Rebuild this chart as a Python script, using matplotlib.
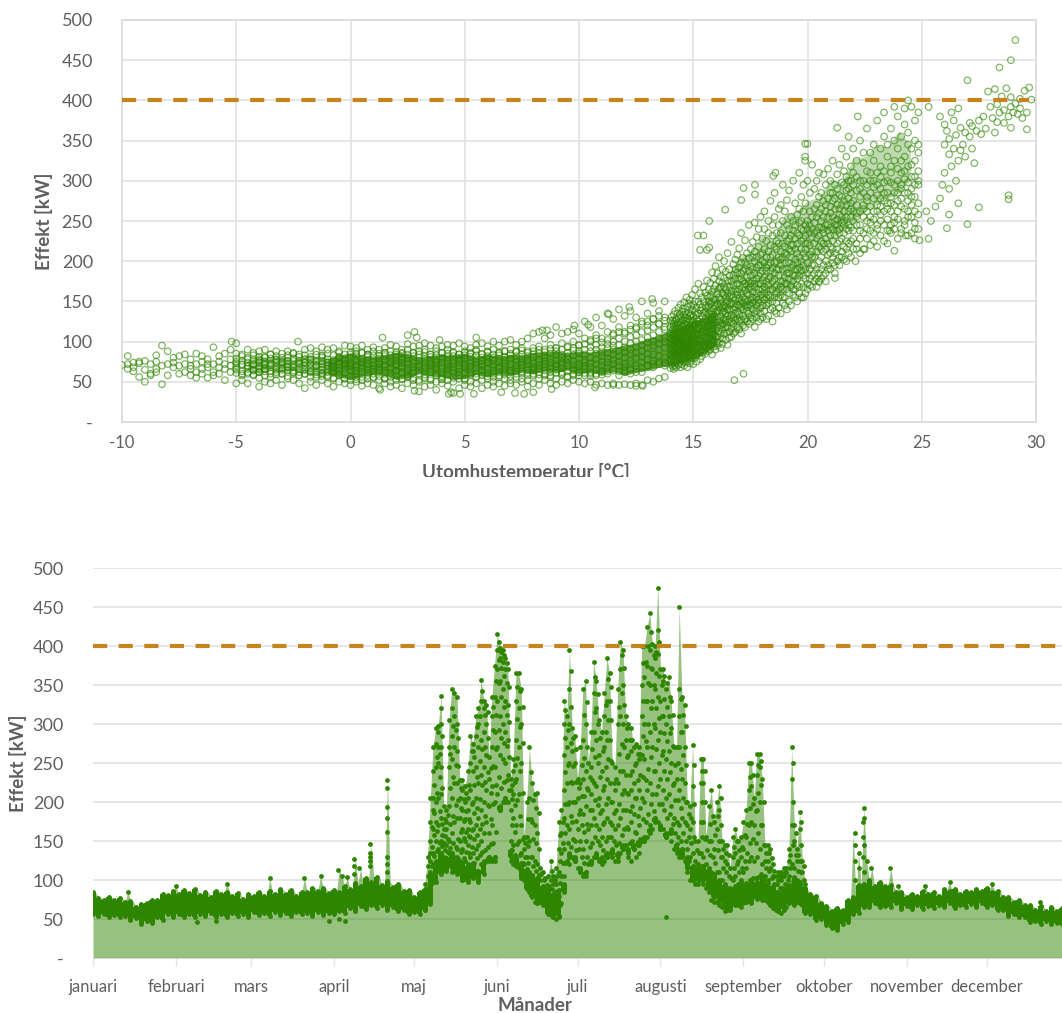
import matplotlib
matplotlib.use('Agg')
import matplotlib.pyplot as plt
from matplotlib.transforms import Bbox

plt.rcParams['font.family'] = ['Lato', 'DejaVu Sans']
plt.rcParams['axes.unicode_minus'] = False

GRON = '#2e8500'
ORANGE = '#c5851c'
GRID = '#e2e2e2'
TEXT = '#5f5f5f'

manader = ['januari', 'februari', 'mars', 'april', 'maj', 'juni', 'juli', 'augusti',
           'september', 'oktober', 'november', 'december']
manad_start = [0, 31, 59, 90, 120, 151, 181, 212, 243, 273, 304, 334]
y_ticks = [0, 50, 100, 150, 200, 250, 300, 350, 400, 450, 500]
y_labels = ['-', '50', '100', '150', '200', '250', '300', '350', '400', '450', '500']
x_ticks = [-10, -5, 0, 5, 10, 15, 20, 25, 30]
grans = 400

# tat kärna i spridningen, (temp, lag, hog)
karna = [(-1, 60, 79), (-0.5, 56, 83), (0, 53, 86), (0.5, 57, 82), (1, 60, 81), (1.5, 58, 83), (2, 53, 87), (2.5, 55, 85),
         (3, 60, 80), (3.5, 58, 83), (4, 56, 84), (4.5, 53, 83), (5, 54, 85), (5.5, 59, 81), (6, 56, 84), (6.5, 60, 82),
         (7, 58, 84), (7.5, 62, 83), (8, 60, 86), (8.5, 64, 87), (9, 62, 88), (9.5, 65, 86), (10, 60, 88), (10.5, 62, 87),
         (11, 59, 90), (11.5, 63, 92), (12, 58, 96), (12.5, 62, 98), (13, 64, 104), (13.5, 68, 108), (14, 70, 114),
         (14.5, 74, 118), (15, 78, 126), (15.5, 85, 130), (16, 95, 138)]
kall_karna = [(-4.5, 66, 76), (-4, 60, 82), (-3.5, 64, 80), (-3, 62, 82), (-2.5, 64, 78), (-2, 60, 84), (-1.5, 58, 82), (-1, 60, 79)]
mellan_karna = [(15.5, 85, 160), (16, 95, 168), (16.5, 108, 180), (17, 112, 205), (17.5, 128, 212), (18, 138, 232), (18.5, 152, 228),
                (19, 162, 258), (19.5, 175, 262), (20, 188, 275), (20.5, 212, 280), (21, 222, 302), (21.5, 240, 298),
                (22, 248, 328), (22.5, 262, 330), (23, 270, 345), (23.5, 278, 342), (24, 285, 362), (24.5, 300, 345)]

# spridning: rader per 0.25 grader fran -10
kall_rader = [
    [71], [72, 66, 82], [68, 74, 63], [75, 56, 73], [50, 76, 65], [72, 60, 58], [62, 66, 83, 75], [47, 70, 95],
    [72, 58, 88], [74, 68, 80], [60, 82, 70], [72, 62, 84], [58, 70, 78, 66], [85, 62, 72, 55], [75, 66, 60, 82],
    [68, 78, 55, 72], [93, 72, 58, 62], [82, 68, 75, 60], [52, 72, 85, 66], [78, 90, 62, 70],
    [98, 65, 48, 75, 85], [84, 60, 72, 52], [70, 80, 48, 62, 90], [72, 86, 65, 58], [44, 62, 76, 88, 55],
    [50, 66, 80, 90, 72], [48, 60, 72, 84], [52, 65, 78, 88], [46, 60, 74, 85], [54, 68, 80, 88],
    [52, 62, 76, 86], [48, 58, 72, 84], [42, 60, 74, 90], [50, 62, 78, 92], [46, 56, 70, 88], [52, 60, 82, 93],
    [48, 56, 74, 90], [44, 54, 68, 92], [50, 58, 80, 88], [48, 54, 72, 95], [46, 52, 84, 94], [50, 56, 88, 92],
    [45, 52, 86, 95], [48, 54, 84, 90], [46, 56, 88, 93], [42, 52, 82, 90], [48, 54, 86, 92], [44, 50, 88, 96],
    [46, 52, 84, 94], [42, 54, 86, 90], [48, 56, 90, 97], [46, 52, 86, 94], [38, 50, 88, 95], [44, 54, 90, 98],
    [46, 52, 84, 95], [40, 50, 88, 92], [48, 54, 86, 94], [45, 52, 90, 96], [36, 50, 86, 95], [42, 54, 84, 98],
    [46, 52, 88, 94], [44, 50, 86, 92], [48, 56, 90, 96], [42, 52, 84, 98], [46, 54, 88, 94], [44, 50, 90, 100],
    [48, 56, 86, 95], [45, 54, 88, 100], [48, 52, 90, 102], [46, 56, 88, 96], [50, 54, 92, 100], [44, 52, 88, 104],
    [48, 58, 92, 110], [46, 54, 94, 112], [52, 58, 90, 104], [48, 56, 96, 108], [46, 54, 92, 118], [50, 60, 98, 110],
    [48, 56, 94, 112], [52, 58, 100, 115], [50, 62, 96, 110], [48, 58, 104, 125], [50, 60, 102, 118],
    [46, 58, 108, 130], [48, 62, 104, 120], [46, 60, 112, 135], [48, 64, 110, 128], [46, 58, 118, 140],
    [47, 62, 112, 132], [46, 60, 120, 138], [48, 66, 116, 130], [46, 62, 125, 150], [52, 70, 120, 135],
    [50, 68, 128, 148], [54, 72, 122, 138], [56, 70, 130, 150],
]
# fler ringar i kärnan, per 0.25 grader fran -5
kall_extra = [
    [67, 73, 61, 79, 70], [63, 76, 71, 82, 58], [74, 66, 69, 60, 78], [71, 64, 83, 77, 59], [78, 62, 69, 74, 66, 81],
    [66, 75, 81, 58, 71, 63], [70, 79, 63, 73, 56, 84], [62, 77, 68, 82, 74, 59], [75, 60, 71, 65, 80, 67],
    [69, 83, 57, 76, 64, 72], [64, 71, 79, 61, 85, 68], [73, 58, 67, 81, 76, 62], [60, 78, 70, 65, 83, 74],
    [72, 56, 81, 67, 63, 77], [59, 75, 84, 69, 71, 62], [80, 65, 72, 57, 76, 68, 61, 83], [74, 62, 69, 85, 58, 78, 66, 71],
    [61, 77, 83, 70, 55, 73, 67, 64], [68, 81, 59, 75, 86, 63, 72, 79], [76, 54, 70, 66, 84, 61, 78, 73],
    [63, 87, 57, 74, 69, 80, 65, 71], [71, 53, 82, 77, 60, 68, 85, 64], [56, 79, 67, 73, 62, 86, 75, 70],
    [84, 61, 72, 58, 77, 65, 81, 69], [66, 74, 55, 83, 70, 63, 78, 60], [79, 57, 68, 75, 85, 62, 72, 65],
    [60, 82, 71, 64, 77, 54, 69, 86], [73, 66, 83, 56, 78, 61, 75, 68], [58, 76, 64, 87, 70, 81, 63, 72],
    [85, 69, 53, 74, 62, 78, 67, 80], [62, 79, 72, 57, 84, 66, 75, 59], [77, 55, 68, 82, 61, 73, 86, 64],
    [69, 84, 60, 76, 65, 52, 80, 71], [56, 73, 87, 63, 78, 68, 59, 82], [81, 62, 70, 54, 75, 66, 84, 72],
    [65, 77, 58, 83, 71, 60, 74, 68], [74, 53, 80, 67, 86, 62, 78, 57], [59, 85, 69, 76, 63, 72, 81, 66],
    [82, 64, 55, 73, 68, 87, 61, 77], [70, 78, 62, 58, 84, 66, 75, 80], [61, 72, 86, 67, 79, 54, 70, 83],
    [76, 59, 65, 81, 73, 62, 85, 69], [67, 83, 56, 74, 60, 78, 71, 88], [80, 63, 72, 85, 58, 69, 76, 65],
    [57, 75, 82, 66, 78, 61, 87, 73], [84, 68, 60, 77, 71, 56, 64, 80], [62, 86, 74, 69, 58, 83, 67, 79],
    [73, 61, 81, 65, 88, 59, 76, 70], [64, 79, 57, 85, 72, 68, 83, 62], [87, 70, 63, 78, 60, 75, 66, 82],
    [60, 84, 74, 68, 79, 63, 89, 71], [76, 65, 82, 58, 86, 72, 61, 77], [69, 88, 64, 81, 73, 60, 84, 67],
    [62, 78, 90, 71, 66, 85, 75, 59], [83, 68, 60, 87, 76, 64, 72, 80], [74, 91, 62, 79, 69, 85, 58, 66],
    [65, 83, 72, 61, 88, 77, 69, 92], [80, 59, 74, 90, 67, 84, 62, 71], [86, 69, 78, 63, 93, 73, 57, 82],
    [71, 89, 60, 83, 76, 66, 92, 64], [62, 85, 95, 72, 79, 58, 88, 68], [90, 74, 66, 84, 61, 97, 77, 70],
    [68, 93, 80, 62, 88, 73, 100, 57], [85, 72, 96, 65, 78, 90, 60, 104], [75, 99, 64, 87, 70, 93, 82, 59],
    [68, 102, 79, 92, 63, 86, 74, 97], [95, 72, 108, 66, 84, 77, 100, 90], [63, 88, 104, 75, 96, 70, 112, 82],
    [80, 110, 68, 93, 100, 73, 87, 64], [98, 76, 115, 85, 66, 106, 90, 72], [70, 94, 108, 80, 118, 62, 100, 86],
    [88, 112, 74, 102, 68, 96, 122, 81], [78, 105, 92, 125, 70, 114, 85, 99], [95, 72, 118, 84, 108, 128, 76, 100],
    [82, 112, 98, 75, 122, 90, 132, 104], [105, 80, 126, 92, 115, 74, 100, 118],
]
# fran 14 grader, temperatur for varje rad i varm_temp
varm_rader = [
    [92, 78, 118, 104, 67, 126, 85, 110, 99], [83, 112, 71, 95, 122, 104, 88, 131, 76], [108, 69, 97, 126, 81, 115, 90, 102, 73],
    [75, 119, 101, 86, 134, 94, 66, 111, 122], [97, 82, 125, 70, 108, 89, 116, 103, 138], [114, 74, 92, 128, 85, 106, 68, 120, 99],
    [88, 123, 103, 77, 112, 135, 95, 83, 117], [71, 100, 129, 90, 118, 106, 142, 80, 96], [109, 86, 73, 124, 98, 133, 79, 115, 104],
    [94, 131, 82, 112, 68, 103, 121, 90, 146], [78, 118, 100, 137, 87, 109, 72, 126, 95], [105, 91, 127, 76, 115, 84, 141, 99, 120],
    [85, 112, 70, 133, 97, 122, 108, 80, 149], [122, 76, 102, 90, 130, 113, 84, 96, 137], [98, 134, 87, 116, 74, 106, 125, 92, 155],
    [81, 110, 143, 95, 120, 68, 102, 129, 88], [115, 92, 78, 136, 105, 124, 84, 147, 99], [100, 127, 86, 112, 152, 73, 118, 94, 132],
    [89, 145, 108, 76, 121, 98, 134, 83, 115], [126, 79, 103, 140, 92, 114, 158, 86, 108], [95, 119, 84, 131, 72, 107, 146, 100, 125],
    [110, 88, 137, 98, 165, 80, 122, 104, 150], [83, 128, 115, 93, 142, 108, 75, 133, 98], [118, 101, 150, 86, 125, 109, 172, 92, 135],
    [95, 139, 78, 116, 160, 103, 128, 88, 146], [132, 108, 90, 155, 120, 82, 142, 112, 100], [87, 124, 168, 99, 136, 114, 150, 94, 232],
    [118, 145, 104, 85, 128, 161, 96, 137, 111], [100, 157, 125, 92, 142, 176, 113, 134, 214], [135, 88, 118, 150, 105, 127, 165, 96, 144],
    [112, 173, 96, 138, 121, 156, 90, 130, 147], [127, 103, 149, 84, 162, 116, 186, 134, 108], [94, 141, 120, 178, 109, 152, 131, 99, 165],
    [152, 115, 90, 136, 170, 124, 106, 145, 194], [106, 160, 128, 100, 147, 185, 118, 138, 95], [138, 113, 175, 124, 155, 98, 143, 205, 166],
    [120, 152, 92, 168, 131, 110, 147, 181, 126], [104, 142, 190, 122, 160, 136, 97, 173, 115], [158, 128, 110, 179, 145, 122, 200, 138, 168],
    [135, 102, 165, 149, 118, 187, 127, 155, 143], [118, 176, 140, 96, 160, 132, 210, 150, 124], [146, 128, 190, 112, 168, 139, 156, 182, 105],
    [125, 163, 106, 148, 224, 133, 175, 116, 158], [170, 140, 122, 196, 155, 130, 183, 110, 147], [112, 152, 178, 135, 165, 202, 126, 143, 190],
    [158, 128, 208, 118, 172, 146, 186, 137, 162], [134, 192, 115, 154, 177, 125, 216, 165, 145], [178, 143, 127, 198, 160, 110, 185, 150, 235],
    [120, 168, 204, 140, 155, 188, 132, 175, 148], [190, 152, 128, 172, 226, 145, 164, 118, 199], [138, 180, 160, 210, 125, 150, 195, 170, 143],
    [165, 122, 188, 146, 175, 245, 135, 158, 204], [152, 215, 130, 193, 168, 145, 182, 125, 172], [128, 176, 205, 155, 140, 224, 162, 190, 148],
    [200, 135, 168, 185, 150, 118, 212, 172, 248], [145, 192, 160, 130, 230, 178, 155, 205, 138], [172, 218, 148, 125, 195, 165, 240, 182, 152],
    [135, 185, 208, 158, 172, 142, 255, 195, 128], [210, 165, 145, 228, 188, 130, 176, 200, 155], [152, 240, 180, 198, 138, 168, 215, 160, 262],
    [188, 145, 225, 165, 205, 175, 128, 192, 155], [132, 178, 250, 158, 195, 212, 148, 235, 170], [205, 165, 140, 188, 275, 155, 220, 180, 198],
    [150, 232, 175, 125, 208, 165, 192, 245, 142], [178, 198, 155, 255, 185, 138, 218, 168, 285], [215, 148, 190, 170, 235, 160, 200, 135, 225],
    [165, 265, 142, 205, 182, 222, 155, 190, 245], [195, 158, 235, 175, 135, 212, 270, 168, 202], [148, 222, 190, 250, 165, 205, 175, 295, 155],
    [210, 172, 145, 232, 198, 262, 180, 155, 218], [185, 245, 165, 208, 140, 190, 225, 172, 276], [228, 160, 198, 178, 288, 215, 150, 240, 185],
    [170, 212, 255, 192, 168, 232, 145, 205, 220], [158, 238, 182, 220, 300, 175, 195, 250, 165], [202, 165, 272, 190, 228, 155, 215, 182, 245],
    [235, 178, 210, 150, 258, 198, 170, 222, 190], [168, 248, 192, 232, 182, 310, 205, 160, 265], [215, 155, 280, 200, 172, 240, 225, 188, 250],
    [182, 228, 168, 262, 210, 195, 155, 238, 295], [245, 190, 215, 178, 272, 160, 232, 205, 222], [172, 300, 222, 198, 250, 165, 240, 185, 346],
    [208, 178, 262, 235, 190, 220, 285, 170, 245], [230, 195, 168, 255, 212, 320, 182, 240, 205], [185, 248, 222, 290, 175, 205, 265, 235, 195],
    [255, 212, 178, 238, 300, 190, 228, 168, 270], [200, 280, 242, 185, 218, 260, 175, 310, 232], [225, 190, 265, 205, 242, 178, 285, 215, 250],
    [195, 308, 235, 275, 212, 182, 255, 222, 240], [262, 215, 185, 245, 295, 228, 200, 270, 175], [238, 195, 278, 222, 255, 315, 208, 245, 190],
    [210, 268, 242, 190, 232, 285, 218, 260, 300], [285, 225, 205, 255, 198, 240, 275, 215, 325], [245, 195, 265, 232, 295, 210, 250, 185, 278],
    [222, 308, 252, 215, 270, 238, 200, 290, 245], [265, 205, 240, 320, 225, 282, 258, 195, 235], [212, 280, 248, 270, 205, 298, 228, 340, 255],
    [295, 235, 202, 262, 245, 312, 218, 275, 250], [240, 215, 288, 255, 330, 225, 270, 200, 305], [262, 300, 222, 245, 278, 210, 355, 238, 290],
    [225, 272, 318, 255, 205, 285, 242, 300, 265], [310, 238, 262, 215, 295, 250, 340, 275, 228], [270, 215, 288, 245, 325, 260, 222, 305, 255],
    [245, 300, 228, 280, 262, 350, 238, 290, 210], [285, 255, 322, 235, 270, 300, 215, 265, 335], [228, 312, 275, 250, 295, 240, 365, 280, 262],
    [300, 248, 220, 268, 335, 285, 255, 310, 238], [262, 345, 292, 235, 278, 252, 325, 225, 300], [240, 282, 310, 262, 375, 245, 295, 270, 218],
    [318, 258, 232, 290, 268, 340, 250, 305, 278], [275, 225, 355, 298, 245, 312, 262, 385, 285], [252, 330, 285, 272, 238, 300, 265, 345, 222],
    [298, 245, 318, 262, 365, 280, 235, 310, 272], [270, 392, 240, 295, 325, 255, 350, 285, 248], [315, 262, 300, 228, 285, 340, 275, 380, 252],
    [240, 290, 355, 268, 310, 235, 295, 325, 278], [302, 265, 390, 250, 330, 285, 245, 312, 370], [275, 345, 232, 298, 262, 318, 360, 285, 255],
    [320, 255, 290, 392, 270, 235, 340, 305, 280], [262, 375, 305, 248, 325, 280, 295, 350, 228], [295, 335, 272, 385, 258, 312, 345, 240, 300],
]
# hur mycket temperaturen okar per rad: (antal rader, steg)
varm_steg = [(20, 0.05), (20, 0.075), (20, 0.085), (20, 0.09), (20, 0.1), (20, 0.15)]
spridda = [(29.1, 475), (28.9, 450), (28.4, 441), (27.0, 425), (29.7, 416), (27.9, 411), (28.2, 414), (28.7, 415),
           (29.5, 412), (28.5, 405), (28.9, 404), (29.3, 402), (29.8, 401), (29.1, 396), (28.9, 392), (29.6, 385),
           (28.8, 380), (28.1, 378), (27.7, 380), (28.9, 366), (29.6, 364), (28.2, 360), (28.8, 282), (28.8, 277),
           (27.5, 267), (27.0, 246), (26.6, 272), (26.2, 258), (26.1, 241), (25.3, 228), (23.8, 213), (22.5, 215),
           (22.1, 200), (21.2, 179), (20.5, 174), (19.9, 346), (19.9, 330), (19.9, 325), (18.6, 310), (18.5, 306),
           (17.2, 291), (17.7, 295), (17.7, 283), (17.1, 276), (16.4, 264), (15.7, 250), (15.2, 232), (15.3, 214),
           (15.7, 217), (16.8, 52), (17.2, 60), (22.2, 380), (21.3, 366), (24.4, 400), (25.3, 392), (26.6, 390),
           (26.3, 385), (25.8, 380), (4.3, 35), (4.4, 37), (4.8, 35), (5.4, 35), (6.6, 37), (7.2, 36), (7.6, 35),
           (2.8, 112), (2.5, 108), (2.9, 105), (1.4, 105), (-2.3, 100), (-5.2, 100), (5.5, 105), (3.9, 102),
           (2.8, 39), (1.3, 40), (8.6, 114), (8.4, 114), (9.8, 120), (10.4, 121), (11.3, 134), (12.2, 143),
           (13.2, 153), (10.7, 43), (11.5, 46), (12.8, 45), (12.5, 45), (8.8, 41), (8.0, 37),
           (26.0, 370), (26.2, 352), (26.4, 340), (26.6, 325), (26.0, 310), (25.9, 295), (26.4, 375), (26.8, 345),
           (26.9, 330), (27.1, 355), (27.2, 340), (27.3, 322), (27.4, 362), (27.5, 375), (27.1, 372), (27.8, 365),
           (28.0, 392), (28.3, 395), (28.6, 372), (28.4, 385), (29.0, 385), (29.3, 390), (29.4, 378),
           (26.1, 362), (26.2, 333), (26.5, 357), (26.7, 366), (26.3, 318), (26.5, 300), (26.2, 290), (26.7, 338),
           (26.0, 345), (26.9, 360), (27.2, 368), (27.6, 358), (28.3, 373), (28.6, 388), (29.2, 383),
           (25.4, 250), (25.6, 268), (25.2, 262), (25.8, 278), (24.7, 240), (24.3, 232), (23.6, 238), (24.9, 226)]

# tidsserie: band (lag, hog) per 2 dagar fran 1 januari
dag_band = [(56, 84), (54, 77), (57, 75), (53, 78), (55, 74), (52, 77), (54, 72), (49, 73), (51, 66), (44, 69), (47, 70),
            (45, 75), (52, 74), (49, 82), (56, 81), (53, 86), (57, 82), (52, 87), (56, 83), (53, 88), (57, 81), (54, 85),
            (58, 78), (53, 86), (56, 82), (52, 85), (58, 80), (54, 83), (56, 76), (53, 82), (59, 79), (55, 84), (58, 80),
            (54, 86), (59, 82), (55, 88), (58, 82), (54, 87), (59, 80), (56, 85), (58, 84), (54, 90), (59, 86), (55, 90),
            (58, 83), (56, 87), (60, 84), (58, 92), (64, 88), (60, 96), (67, 92), (63, 102), (68, 97), (64, 104), (68, 93),
            (62, 99), (65, 91), (60, 95), (62, 86), (57, 87),
            (59, 78), (56, 84), (61, 88), (69, 106), (98, 122), (108, 135), (112, 128), (116, 134), (108, 130), (100, 122),
            (98, 118), (103, 122), (98, 112), (108, 122), (125, 130), (125, 130), (190, 195), (200, 205), (130, 138),
            (118, 128), (102, 122), (88, 114), (78, 106), (70, 102), (68, 92), (56, 90), (52, 82), (54, 87), (85, 95),
            (130, 135), (125, 130), (110, 115), (105, 110), (120, 125), (130, 135), (125, 130), (130, 135), (135, 140),
            (130, 135), (140, 145), (135, 140), (140, 145), (145, 150), (150, 155), (160, 165), (175, 180), (165, 170),
            (155, 160), (160, 165), (140, 146), (130, 140), (115, 130), (100, 118), (100, 115), (100, 118), (90, 112),
            (78, 108), (72, 100), (66, 94), (62, 88), (68, 92), (66, 98), (72, 96), (70, 100), (76, 98), (74, 104),
            (72, 96), (64, 92), (60, 84), (63, 88), (70, 94), (68, 104), (71, 98), (58, 88), (56, 82), (49, 80),
            (50, 70), (42, 67), (39, 60), (36, 64), (43, 62), (46, 74), (56, 78), (58, 94), (66, 95), (66, 100), (70, 92),
            (66, 97), (67, 92), (66, 94), (70, 84), (63, 84), (67, 78), (63, 82), (68, 80), (63, 86), (67, 82), (64, 85),
            (68, 80), (66, 88), (70, 86), (64, 88), (68, 82), (66, 86), (69, 84), (66, 88), (70, 86), (66, 90), (68, 84),
            (62, 86), (61, 78), (54, 78), (57, 72), (52, 74), (53, 68), (46, 68), (47, 62), (44, 67), (47, 60), (44, 66),
            (45, 60), (43, 64), (45, 60)]

# sommar: avlasta prickar per dag fran dag 124
sommar_rader = [
    [62, 70, 85, 95], [72, 90, 105, 118, 130], [85, 110, 125, 135, 150, 175, 205], [100, 120, 135, 165, 190, 205, 240, 270],
    [110, 125, 150, 175, 200, 245, 275, 295], [115, 140, 170, 205, 250, 270, 290, 298],
    [120, 135, 150, 180, 210, 245, 270, 300, 320, 336], [118, 130, 148, 165, 195], [115, 128, 145, 165, 175, 190],
    [120, 135, 150, 195, 245, 270, 305], [110, 135, 160, 205, 255, 285, 320, 345], [115, 130, 175, 225, 270, 310, 340],
    [118, 140, 180, 225, 265, 300, 335], [110, 125, 150, 180, 205, 228], [100, 118, 140, 165, 190, 215, 228],
    [105, 125, 150, 178, 200, 220], [100, 120, 145, 165, 190, 205, 240], [105, 130, 155, 175, 215, 250, 285],
    [108, 135, 165, 200, 240, 265, 275], [112, 140, 170, 205, 245, 285, 310], [110, 145, 180, 225, 270, 300, 320],
    [120, 150, 190, 235, 280, 330, 357], [125, 160, 200, 245, 290, 320, 330], [125, 175, 215, 260, 300, 325],
    [130, 160, 195, 230, 258], [125, 170, 220, 270, 310, 335], [130, 200, 245, 290, 335, 375],
    [210, 270, 330, 370, 395, 415], [190, 260, 310, 355, 385, 398], [200, 255, 300, 345, 380, 395],
    [205, 250, 290, 330, 370, 385], [200, 235, 280, 325, 370], [125, 150, 190, 215, 230], [120, 145, 180, 210, 240, 255],
    [120, 170, 230, 280, 330, 365], [115, 150, 210, 270, 320, 365], [105, 135, 170, 250, 300, 345], [100, 120, 140, 155],
    [90, 110, 130, 155, 200], [85, 110, 150, 205, 270], [80, 105, 130, 175, 225], [72, 95, 125, 170, 210],
    [70, 90, 120, 160, 212], [75, 100, 115], [70, 90, 110], [68, 85, 102], [60, 80, 105], [55, 75, 100, 125],
    [52, 70, 95, 105], [50, 75, 95, 115], [52, 80, 110, 140, 175], [70, 105, 135, 160, 190],
    [105, 140, 180, 215, 260, 300, 330], [125, 170, 225, 270, 310], [120, 165, 200, 250, 300, 345, 395],
    [130, 175, 225, 265, 295], [125, 150, 200, 250, 285], [115, 165, 205, 230], [110, 150, 190, 225, 270],
    [105, 140, 185, 230, 280, 345], [110, 150, 195, 240, 300, 355], [120, 165, 215, 250], [125, 170, 210, 245, 290],
    [130, 180, 225, 290, 340, 380], [130, 170, 220, 280, 320, 355], [125, 165, 205, 260, 305], [120, 155, 190, 240, 290],
    [125, 175, 220, 270, 310, 340], [130, 180, 230, 280, 330, 385], [135, 175, 225, 280, 330, 365], [130, 170, 200, 250],
    [125, 165, 215, 245], [125, 170, 225, 300, 345], [135, 180, 240, 310, 370, 405], [140, 190, 240, 300, 350, 395],
    [145, 190, 235, 280, 310], [130, 165, 210, 260, 300], [125, 175, 215, 265, 295], [140, 185, 225, 270],
    [130, 160, 205, 250, 275], [135, 170, 215, 255, 270], [150, 205, 260, 310, 350, 400], [150, 200, 255, 300, 360, 400],
    [155, 215, 270, 330, 375, 425], [170, 225, 290, 350, 395, 442], [165, 210, 270, 330, 370, 402],
    [180, 240, 295, 345, 385, 400], [175, 220, 280, 335, 390, 420, 475], [165, 230, 290, 330, 370],
    [165, 215, 265, 310, 355, 370], [52, 155, 205, 255, 300, 345], [160, 210, 265, 310, 360], [150, 195, 250, 295, 330],
    [140, 180, 225, 270], [135, 175, 230, 270], [130, 170, 215, 270, 310, 345, 450], [140, 180, 230, 290, 335],
    [125, 175, 225, 270, 325], [110, 140, 170, 200], [100, 130, 165, 195], [100, 135, 175, 220, 273], [95, 125, 150],
    [95, 120, 150], [100, 135, 175, 225, 255], [95, 130, 175, 225, 255], [90, 120, 155], [85, 115, 150, 195],
    [75, 110, 150, 215], [72, 105, 140, 175], [72, 110, 165, 200], [68, 110, 150, 190, 220], [65, 100, 130, 150],
    [60, 95, 125, 145], [62, 90, 120, 145], [65, 90, 115], [70, 100, 130, 155], [70, 105, 135, 165], [68, 95, 125, 150],
    [70, 100, 130, 155], [70, 110, 140, 175], [72, 115, 155, 190], [75, 125, 170, 215, 250], [75, 130, 175, 220, 250],
    [80, 125, 170, 205], [78, 130, 190, 235, 262], [78, 140, 200, 245, 262], [80, 120, 170, 230], [75, 105, 125, 145],
    [72, 100, 125, 145], [68, 90, 115, 140], [65, 85, 105, 120], [62, 85, 105], [60, 80, 100, 110], [58, 80, 100, 110],
    [62, 85, 105, 115], [65, 90, 110, 115], [72, 105, 125, 140], [75, 120, 170, 230, 270], [75, 115, 150, 170],
    [72, 100, 125, 140], [70, 95, 125, 165, 187], [68, 90, 110, 125], [60, 75, 90, 95],
]
# fler prickar, andra avlasningen av samma dagar fran dag 126
sommar_extra = [
    [96, 118, 142, 168], [108, 131, 158, 186, 222], [117, 137, 163, 212, 258], [122, 148, 188, 232, 262], [112, 127, 143, 158, 172, 218, 285],
    [124, 139, 156, 178], [119, 136, 152, 183], [126, 141, 172, 218, 262], [123, 148, 182, 232, 298], [121, 142, 196, 248, 292],
    [127, 152, 202, 246, 282], [116, 136, 162, 192, 218], [108, 128, 154, 176, 204], [112, 136, 162, 188, 212], [118, 134, 156, 178, 222],
    [116, 142, 164, 198, 266], [122, 152, 186, 222, 258], [128, 158, 192, 232, 296], [132, 166, 204, 252, 310], [136, 172, 222, 268, 342],
    [138, 182, 226, 270, 312], [142, 196, 238, 282, 316], [146, 178, 212, 244], [148, 198, 246, 292, 322], [162, 222, 268, 312, 355],
    [232, 292, 352, 382, 405], [218, 282, 334, 372, 392], [226, 276, 322, 362, 388], [228, 272, 312, 352, 378], [216, 258, 302, 348],
    [138, 170, 204, 222], [132, 162, 196, 226, 248], [146, 202, 256, 306, 348], [132, 182, 240, 296, 342], [122, 152, 212, 276, 322],
    [112, 130, 148], [102, 122, 144, 178], [98, 130, 178, 238], [94, 118, 152, 202], [84, 112, 148, 192], [82, 106, 140, 186], [88, 108], [80, 100],
    [78, 94], [70, 92], [66, 88, 112], [62, 84, 100], [64, 86, 105], [68, 96, 125, 158], [88, 122, 148, 175], [122, 160, 198, 238, 282, 318],
    [148, 198, 248, 292], [142, 182, 226, 276, 322, 368], [152, 200, 246, 282], [138, 176, 226, 268], [140, 185, 218], [130, 170, 208, 248],
    [122, 162, 208, 256, 312], [130, 172, 218, 270, 328], [142, 190, 232], [148, 190, 228, 268], [155, 202, 258, 315, 360],
    [150, 196, 250, 300, 338], [145, 186, 232, 282], [138, 172, 215, 265], [150, 198, 245, 290, 325], [155, 205, 255, 305, 358],
    [155, 200, 252, 305, 348], [150, 186, 225], [145, 190, 230], [148, 198, 262, 322], [158, 210, 275, 340, 388], [165, 215, 270, 325, 372],
    [168, 212, 258, 295], [148, 188, 235, 280], [150, 195, 240, 280], [162, 205, 248], [145, 182, 228, 262], [152, 192, 235, 262],
    [178, 232, 285, 330, 378], [175, 228, 278, 330, 380], [185, 242, 300, 352, 400], [198, 258, 320, 372, 418], [188, 240, 300, 350, 388],
    [210, 268, 320, 365, 392], [198, 250, 308, 362, 405], [198, 260, 310, 350], [190, 240, 288, 332, 362], [180, 230, 278, 322, 352],
    [185, 238, 288, 335], [172, 222, 272, 312], [160, 202, 248], [155, 202, 250], [150, 192, 242, 290, 332], [160, 205, 260, 312], [150, 200, 248, 298],
    [125, 155, 185], [115, 148, 180], [118, 155, 198, 248], [110, 138], [108, 135], [118, 155, 200, 240], [112, 152, 200, 240], [105, 138],
    [100, 132, 172], [92, 130, 182], [88, 122, 158], [90, 138, 182], [88, 130, 170, 205], [82, 115, 140], [78, 110, 135], [76, 105, 132],
    [78, 102], [85, 115, 142], [88, 120, 150], [82, 110, 138], [85, 115, 142], [90, 125, 158], [92, 135, 172], [100, 148, 192, 232], [102, 152, 198, 235],
    [102, 148, 188], [104, 160, 212, 248], [108, 170, 222, 252], [100, 145, 200], [90, 115, 135], [86, 112, 135], [80, 102, 128], [75, 95, 112],
    [72, 95], [70, 90, 105], [68, 90, 105], [72, 95, 110], [78, 100], [88, 115, 132], [98, 145, 200, 250], [95, 132, 160], [85, 112, 132], [82, 110, 145, 175],
    [78, 100, 118], [68, 82],
]
# enstaka toppar utanfor sommaren (dag, kW)
toppar = [(109.7, 228), (109.7, 218), (109.7, 193), (109.7, 180), (109.7, 162), (109.7, 130), (109.7, 120), (109.7, 110),
          (103.6, 146), (103.6, 135), (103.6, 130), (103.6, 125), (103.6, 118), (97.6, 127), (97.6, 118), (97.6, 108),
          (99.5, 115), (91.6, 113), (93, 105), (95, 104), (85, 105), (79, 103), (66, 102), (50, 95), (31, 92), (13, 85),
          (284.5, 160), (284.5, 145), (284.5, 125), (284.5, 100), (286, 135), (286, 115), (287.5, 175), (287.5, 155),
          (287.5, 130), (288, 192), (288, 180), (288, 145), (288, 110), (289, 125), (290.7, 115), (297.6, 115), (300.8, 92),
          (311, 92), (320, 97), (335.7, 95), (353.6, 72), (46, 48), (39, 46), (88, 47), (92, 50), (94, 47)]

fig = plt.figure(figsize=(10.62, 10.13), dpi=100)
W, H = 1062.0, 1013.0


def pix_axes(left, top, right, bottom):
    return fig.add_axes([left / W, 1 - bottom / H, (right - left) / W, (bottom - top) / H])


# --- ovre diagrammet ---
ax1 = pix_axes(122, 20, 1036, 422)
ax1.set_xlim(-10, 30)
ax1.set_ylim(0, 500)
ax1.grid(True, color=GRID, lw=1.2)
ax1.set_axisbelow(True)
for s in ax1.spines.values():
    s.set_color('#dcdcdc')
    s.set_linewidth(1.3)

for band, a in [(karna, 0.78), (kall_karna, 0.4), (mellan_karna, 0.3)]:
    ax1.fill_between([r[0] for r in band], [r[1] for r in band], [r[2] for r in band], color=GRON, alpha=a, lw=0, zorder=2)

temp, kw = [], []
for i, rad in enumerate(kall_rader):
    for v in rad:
        temp.append(-10 + 0.25 * i)
        kw.append(v)
for i, rad in enumerate(kall_extra):
    for v in rad:
        temp.append(-5 + 0.25 * i)
        kw.append(v)
t_rad = 14.0
i = 0
for antal, steg in varm_steg:
    for _ in range(antal):
        for v in varm_rader[i]:
            temp.append(t_rad)
            kw.append(v)
        t_rad += steg
        i += 1
for p in spridda:
    temp.append(p[0])
    kw.append(p[1])
ax1.scatter(temp, kw, s=22, facecolors='none', edgecolors=GRON, linewidths=0.9, alpha=0.6, zorder=3)
ax1.plot([-10, 29.7], [grans, grans], color=ORANGE, lw=3, linestyle=(0, (3.4, 2.75)), zorder=4)

ax1.set_xticks(x_ticks)
ax1.set_yticks(y_ticks)
ax1.set_yticklabels(y_labels)
ax1.tick_params(length=0, labelsize=12, labelcolor=TEXT)
ax1.tick_params(axis='x', pad=9)
ax1.tick_params(axis='y', labelsize=13, pad=21)
fig.text(44 / W, 1 - 221 / H, 'Effekt [kW]', rotation=90, ha='center', va='center',
         fontsize=13.5, fontweight='bold', color=TEXT)
xlab = fig.text(526 / W, 1 - 472 / H, 'Utomhustemperatur [°C]', ha='center', va='center',
                fontsize=13.5, fontweight='bold', color=TEXT)
# nederkanten av rubriken ar avklippt i originalet
xlab.set_clip_on(True)
xlab.set_clip_box(Bbox([[0, H - 477], [W, H]]))

# --- nedre diagrammet ---
ax2 = pix_axes(93, 568, 1062, 958)
ax2.set_xlim(0, 362)
ax2.set_ylim(0, 500)
ax2.grid(True, axis='y', color=GRID, lw=1.2)
ax2.set_axisbelow(True)
for namn in ['top', 'left', 'right']:
    ax2.spines[namn].set_visible(False)
ax2.spines['bottom'].set_color('#dcdcdc')

band_dag = [2 * i for i in range(len(dag_band))]
band_lag = [r[0] for r in dag_band]
band_hog = [r[1] for r in dag_band]

# fyllnaden foljer hogsta varde per dag
topp_per_dag = {}
for d, h in zip(band_dag, band_hog):
    topp_per_dag[d] = h
    topp_per_dag[d + 1] = h
for i, rad in enumerate(sommar_rader):
    topp_per_dag[124 + i] = max(rad)
for d, v in toppar:
    n = round(d)
    topp_per_dag[n] = max(topp_per_dag[n], v)
fyll_x = sorted(topp_per_dag)
ax2.fill_between(fyll_x, [topp_per_dag[d] for d in fyll_x], 0, color=GRON, alpha=0.5, lw=0, zorder=2)
ax2.fill_between(band_dag, band_lag, band_hog, color=GRON, lw=0, step='mid', zorder=3)

dag_x, dag_y = list(band_dag) + list(band_dag), band_lag + band_hog
for i, rad in enumerate(sommar_rader):
    for v in rad:
        dag_x.append(124 + i)
        dag_y.append(v)
for i, rad in enumerate(sommar_extra):
    for v in rad:
        dag_x.append(126.5 + i)
        dag_y.append(v)
for d, v in toppar:
    dag_x.append(d)
    dag_y.append(v)
ax2.scatter(dag_x, dag_y, s=12, color=GRON, lw=0, zorder=4)
ax2.plot([0, 362], [grans, grans], color=ORANGE, lw=3, linestyle=(0, (3.4, 2.75)), zorder=5)

ax2.set_xticks(manad_start)
ax2.set_xticklabels(manader)
ax2.set_yticks(y_ticks)
ax2.set_yticklabels(y_labels)
ax2.tick_params(axis='y', length=0, labelsize=13, labelcolor=TEXT, pad=21)
ax2.tick_params(axis='x', length=6, width=1, color='#e4e4e4', labelsize=12, labelcolor=TEXT, pad=9)
fig.text(18 / W, 1 - 763 / H, 'Effekt [kW]', rotation=90, ha='center', va='center',
         fontsize=13.5, fontweight='bold', color=TEXT)
fig.text(535 / W, 1 - 1005 / H, 'Månader', ha='center', va='center',
         fontsize=13.5, fontweight='bold', color=TEXT)

fig.savefig('out.png', dpi=100)
